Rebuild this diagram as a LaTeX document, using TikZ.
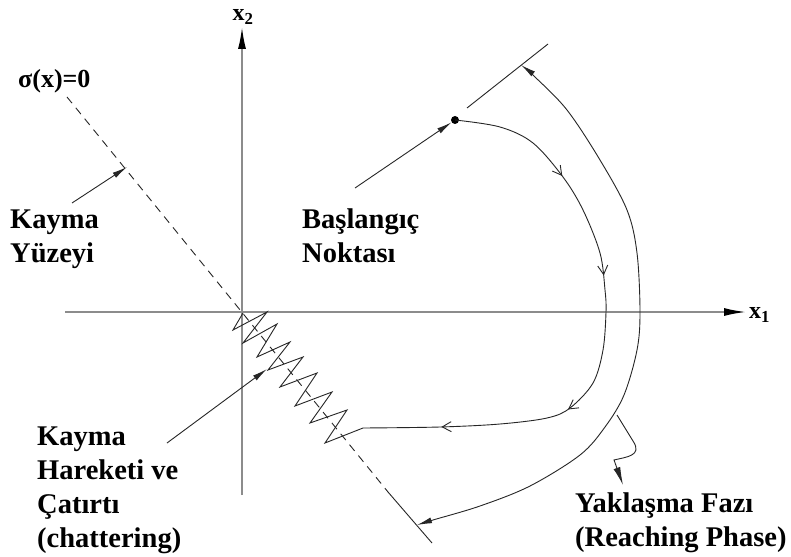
\documentclass[tikz,border=0pt]{standalone}
\usepackage{fontspec}
\setmainfont{Liberation Serif}
\usetikzlibrary{arrows.meta,decorations.markings}
\begin{document}
\begin{tikzpicture}[x=1pt,y=-1pt,
  axis/.style={draw=black!45,line width=1.7pt},
  curve/.style={draw=black!85,line width=0.9pt},
  lbl/.style={font=\fontsize{28.5}{34}\selectfont\bfseries,anchor=base west,align=left,inner sep=0pt},
  axlbl/.style={font=\fontsize{24}{24}\selectfont\bfseries,inner sep=0pt},
  filltip/.style={-{Latex[length=15pt,width=6pt]}},
  opentip/.style={decoration={markings,
     mark=at position 0.215 with {\arrow{Straight Barb[length=9pt,width=10pt]}},
     mark=at position 0.40 with {\arrow{Straight Barb[length=9pt,width=10pt]}},
     mark=at position 0.648 with {\arrow{Straight Barb[length=9pt,width=10pt]}},
     mark=at position 0.867 with {\arrow{Straight Barb[length=9pt,width=10pt]}}},
     postaction={decorate}}
]
\useasboundingbox (0,0) rectangle (791,556);
\fill[white] (0,0) rectangle (791,556);

% axes
\coordinate (x1s) at (65,312);
\coordinate (x1e) at (746,312);
\coordinate (x2s) at (242,495);
\coordinate (x2e) at (242,27);
\draw[axis,-{Latex[length=22pt,width=8pt,color=black]}] (x1s) -- (x1e);
\draw[axis,-{Latex[length=22pt,width=8pt,color=black]}] (x2s) -- (x2e);
\node[axlbl,anchor=west] (lx1) at (749,315) {x\textsubscript{1}};
\node[axlbl] (lx2) at (243,17) {x\textsubscript{2}};

% sliding surface
\coordinate (s0) at (67,97);
\coordinate (O) at (243,313);
\coordinate (s1) at (388,492);
\coordinate (s2) at (432,543);
\draw[curve,dash pattern=on 8pt off 6pt] (s0) -- (s1);
\draw[curve] (s1) -- (s2);

% chattering zigzag
\coordinate (E) at (363,428);
\draw[curve,line join=miter] (E) -- (325,443) -- (347,410) -- (310,423) -- (332,392)
  -- (295,406) -- (317,373) -- (280,387) -- (303,357) -- (268,370) -- (290,342)
  -- (257,357) -- (277,324) -- (243,343) -- (267,312) -- (233,330) -- (O);

% initial point and trajectory
\node[circle,fill=black,inner sep=0pt,minimum size=8pt] (P0) at (455,120) {};
\draw[curve,opentip] plot[smooth,tension=0.55] coordinates {
  (P0) (500,127) (533,143) (563,177) (583,210) (600,253) (605,290) (606,312)
  (603,350) (593,383) (570,408) (547,418) (500,424) (440,427) (E)};

% reaching phase measure
\coordinate (t0) at (467,108);
\coordinate (t1) at (548,44);
\draw[curve] (t0) -- (t1);
\coordinate (ta) at (521,65);
\coordinate (tb) at (417,525);
\draw[curve,{Latex[length=15pt,width=6pt]}-{Latex[length=15pt,width=6pt]}]
  plot[smooth,tension=0.55] coordinates {
  (ta) (535,77) (567,110) (600,160) (627,210) (637,253) (640,312) (637,350)
  (624,395) (605,427) (580,455) (530,486) (480,506) (433,520) (tb)};

% pointer of the reaching phase label
\coordinate (q0) at (617,415);
\coordinate (q1) at (623,485);
\draw[curve,-{Latex[length=18pt,width=7pt]}] (q0) -- (633,441) .. controls (643,456) and (626,457) .. (614,460) -- (q1);

% label pointers
\coordinate (b0) at (355,188);
\draw[curve,filltip] (b0) -- (P0);
\coordinate (k0) at (72,203);
\coordinate (k1) at (127,167);
\draw[curve,filltip] (k0) -- (k1);
\coordinate (c0) at (167,443);
\coordinate (c1) at (267,369);
\draw[curve,filltip] (c0) -- (c1);

% labels (anchor = baseline of the last line)
\node[lbl,font=\fontsize{26}{30}\selectfont\bfseries] (sig) at (18,88) {σ(x)=0};
\node[lbl] (ky) at (10,262) {Kayma\\Yüzeyi};
\node[lbl] (bn) at (302,262) {Başlangıç\\Noktası};
\node[lbl] (kh) at (37,547) {Kayma\\Hareketi ve\\Çatırtı\\(chattering)};
\node[lbl] (yf) at (575,546) {Yaklaşma Fazı\\(Reaching Phase)};
\end{tikzpicture}
\end{document}
